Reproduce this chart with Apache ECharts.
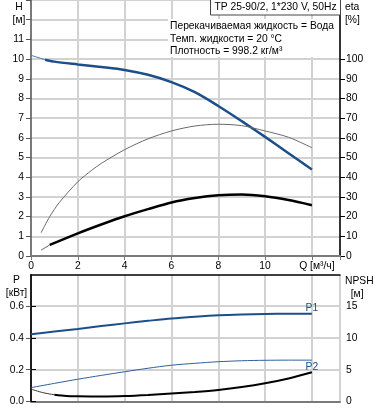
<!DOCTYPE html>
<html>
<head>
<meta charset="utf-8">
<script src="https://cdn.jsdelivr.net/npm/echarts@6/dist/echarts.min.js"></script>
<style>
  html, body { margin: 0; padding: 0; background: #fff; }
  #chart { width: 378px; height: 410px; }
</style>
</head>
<body>
<div id="chart"></div>
<script>
// curve data
var qHead = [0, 0.6, 1, 2, 3, 4, 5, 6, 7, 8, 9, 10, 11, 12];
var head = [10.19, 9.97, 9.87, 9.73, 9.6, 9.45, 9.2, 8.83, 8.32, 7.62, 6.85, 6.05, 5.22, 4.39];

var qEtaPump = [0.43, 0.8, 1.2, 2, 2.6, 3, 4, 5, 6, 7, 8, 9, 10, 11, 12];
var etaPump = [11.8, 20, 27, 37.7, 43.6, 47, 54, 59.5, 63.5, 66, 66.9, 66.2, 63.5, 60.3, 55];

var qEtaTotal = [0.43, 0.8, 2, 3, 4, 5, 6, 7, 8, 9, 10, 11, 12];
var etaTotal = [3, 5.6, 11.5, 16, 20.2, 23.8, 27.2, 29.4, 30.8, 31.2, 30.3, 28.4, 25.8];

var qPower = [0, 1, 2, 3, 4, 5, 6, 7, 8, 9, 10, 11, 12];
var p1 = [0.423, 0.44, 0.456, 0.474, 0.491, 0.507, 0.522, 0.533, 0.542, 0.547, 0.55, 0.551, 0.551];
var p2 = [0.087, 0.114, 0.14, 0.164, 0.187, 0.209, 0.228, 0.24, 0.25, 0.256, 0.259, 0.26, 0.26];

var qNpsh = [0, 0.5, 1, 1.5, 2, 3, 4, 5, 6, 7, 8, 9, 10, 11, 12];
var npsh = [1.94, 1.4, 1.05, 0.88, 0.82, 0.78, 0.85, 1.02, 1.25, 1.5, 1.82, 2.27, 2.86, 3.62, 4.59];

// tick labels
var qLabels = [0, 2, 4, 6, 8, 10, 12];
var hLabels = [0, 1, 2, 3, 4, 5, 6, 7, 8, 9, 10, 11];
var etaLabels = [0, 10, 20, 30, 40, 50, 60, 70, 80, 90, 100];
var pLabels = [0, 0.2, 0.4, 0.6];
var npshLabels = [0, 5, 10, 15];

var infoLines = ['Перекачиваемая жидкость = Вода', 'Темп. жидкости = 20 °C', 'Плотность = 998.2 кг/м³'];
var titleText = 'TP 25-90/2, 1*230 V, 50Hz';

var blue = '#1c4e8a';
var font = '"Liberation Sans", Arial, sans-serif';
var fs = 10.3;
var cssFont = fs + 'px ' + font;

// pairs [q, v] between two indexes
function pts(q, v, from, to) {
    var out = [];
    for (var i = from; i < (to == null ? q.length : to); i++) out.push([q[i], v[i]]);
    return out;
}

function curve(xi, yi, data, color, width) {
    return { type: 'line', xAxisIndex: xi, yAxisIndex: yi, showSymbol: false,
             smooth: 0.3, data: data,
             lineStyle: { color: color, width: width } };
}

var gridLine = { show: true, lineStyle: { color: '#d2d2d2', width: 2 } };

function xAxisFor(gridIndex, withLabels) {
    return {
        type: 'value', gridIndex: gridIndex, min: 0, max: 13.2, interval: 2,
        axisLine: { onZero: false, lineStyle: { color: '#7a7a7a', width: 2 } },
        axisTick: { show: withLabels, length: 4, lineStyle: { color: '#7a7a7a' } },
        axisLabel: {
            show: withLabels, customValues: qLabels, margin: 5, color: '#000', fontSize: fs, fontFamily: font,
            formatter: function(v) { return v === 12 ? '{q|Q [м³/ч]}' : String(v); },
            rich: { q: { padding: [0, 0, 0, 10], fontSize: fs, fontFamily: font, color: '#000' } }
        },
        splitLine: gridLine
    };
}

var chart = echarts.init(document.getElementById('chart'));
var p1Series = curve(1, 2, pts(qPower, p1, 0), blue, 2);
p1Series.markPoint = { symbol: 'circle', symbolSize: 0, silent: true,
    label: { show: true, position: 'top', distance: 1, formatter: 'P1', color: blue, fontSize: fs, fontFamily: font },
    data: [{ coord: [qPower[qPower.length - 1], p1[p1.length - 1]] }] };
var npshSeries = curve(1, 3, pts(qNpsh, npsh, 2), '#000', 2);
npshSeries.markPoint = { symbol: 'circle', symbolSize: 0, silent: true,
    label: { show: true, position: 'top', distance: 0, formatter: 'P2', color: blue, fontSize: fs, fontFamily: font },
    data: [{ coord: [qNpsh[qNpsh.length - 1], npsh[npsh.length - 1]] }] };

var option = {
    animation: false,
    textStyle: { fontFamily: font },
    grid: [
        { left: 31, right: 38, top: 0, height: 256 },
        { left: 31, right: 38, top: 275, bottom: 8.5 }
    ],
    xAxis: [
        xAxisFor(0, true),
        xAxisFor(1, false),
        // black top edge of the power box
        { type: 'value', gridIndex: 1, position: 'top', min: 0, max: 13.2,
          axisLine: { onZero: false, lineStyle: { color: '#000', width: 1.5 } },
          axisTick: { show: false }, axisLabel: { show: false }, splitLine: { show: false } }
    ],
    yAxis: [
        { type: 'value', gridIndex: 0, min: 0, max: 13, interval: 1,
          axisLine: { show: true, lineStyle: { color: '#7a7a7a', width: 2 } },
          axisTick: { show: true, length: 5, lineStyle: { color: '#555' } },
          axisLabel: { customValues: hLabels, margin: 7, color: '#000', fontSize: fs, fontFamily: font },
          splitLine: gridLine },
        { type: 'value', gridIndex: 0, position: 'right', min: 0, max: 130, interval: 10,
          axisLine: { show: true, lineStyle: { color: '#000', width: 1.5 } },
          axisTick: { show: true, length: 5, customValues: etaLabels, lineStyle: { color: '#000' } },
          axisLabel: { customValues: etaLabels, margin: 6, color: '#000', fontSize: fs, fontFamily: font },
          splitLine: { show: false } },
        { type: 'value', gridIndex: 1, min: 0, max: 0.795, interval: 0.2,
          axisLine: { show: true, lineStyle: { color: '#7a7a7a', width: 2 } },
          axisTick: { show: true, length: 5, customValues: pLabels, lineStyle: { color: '#555' } },
          axisLabel: { customValues: pLabels, margin: 7, color: '#000', fontSize: fs, fontFamily: font,
                       formatter: function(v) { return v.toFixed(1); } },
          splitLine: gridLine },
        { type: 'value', gridIndex: 1, position: 'right', min: 0, max: 19.875, interval: 5,
          axisLine: { show: true, lineStyle: { color: '#000', width: 1.5 } },
          axisTick: { show: true, length: 5, customValues: npshLabels, lineStyle: { color: '#000' } },
          axisLabel: { customValues: npshLabels, margin: 6, color: '#000', fontSize: fs, fontFamily: font },
          splitLine: { show: false } }
    ],
    series: [
        // H, thin start then thick
        curve(0, 0, pts(qHead, head, 0, 2), '#4f74a6', 1),
        curve(0, 0, pts(qHead, head, 1), blue, 2.5),
        // pump efficiency
        curve(0, 1, pts(qEtaPump, etaPump, 0), '#6a6a6a', 1),
        // total efficiency
        curve(0, 1, pts(qEtaTotal, etaTotal, 0, 2), '#555', 1),
        curve(0, 1, pts(qEtaTotal, etaTotal, 1), '#000', 2.5),
        // power
        p1Series,
        curve(1, 2, pts(qPower, p2, 0), '#2f5f9c', 1),
        // NPSH
        curve(1, 3, pts(qNpsh, npsh, 0, 3), '#333', 1),
        npshSeries
    ],
    graphic: [
        // axis names
        { type: 'text', x: 19, y: 1, style: { text: 'H\n[м]', font: cssFont, fill: '#000', align: 'center', lineHeight: 12.5 } },
        { type: 'text', x: 345, y: 1, style: { text: 'eta\n[%]', font: cssFont, fill: '#000', lineHeight: 12.5 } },
        { type: 'text', x: 16.5, y: 274, style: { text: 'P\n[кВт]', font: cssFont, fill: '#000', align: 'center', lineHeight: 13 } },
        { type: 'text', x: 345, y: 275, style: { text: 'NPSH\n  [м]', font: cssFont, fill: '#000', lineHeight: 13 } },
        // title box
        { type: 'rect', shape: { x: 210.5, y: -1, width: 130, height: 16 }, style: { fill: '#fff', stroke: '#444', lineWidth: 1 }, z: 10 },
        { type: 'text', x: 275.5, y: 7.5, style: { text: titleText, font: cssFont, fill: '#000', align: 'center', verticalAlign: 'middle' }, z: 11 },
        // fluid info
        { type: 'rect', shape: { x: 168, y: 19, width: 171, height: 38 }, style: { fill: '#fff' }, z: 10 },
        { type: 'text', x: 170, y: 26.5, style: { text: infoLines[0], font: cssFont, fill: '#000', verticalAlign: 'middle' }, z: 11 },
        { type: 'text', x: 170, y: 39, style: { text: infoLines[1], font: cssFont, fill: '#000', verticalAlign: 'middle' }, z: 11 },
        { type: 'text', x: 170, y: 51.5, style: { text: infoLines[2], font: cssFont, fill: '#000', verticalAlign: 'middle' }, z: 11 }
    ]
};
chart.setOption(option);
</script>
</body>
</html>
